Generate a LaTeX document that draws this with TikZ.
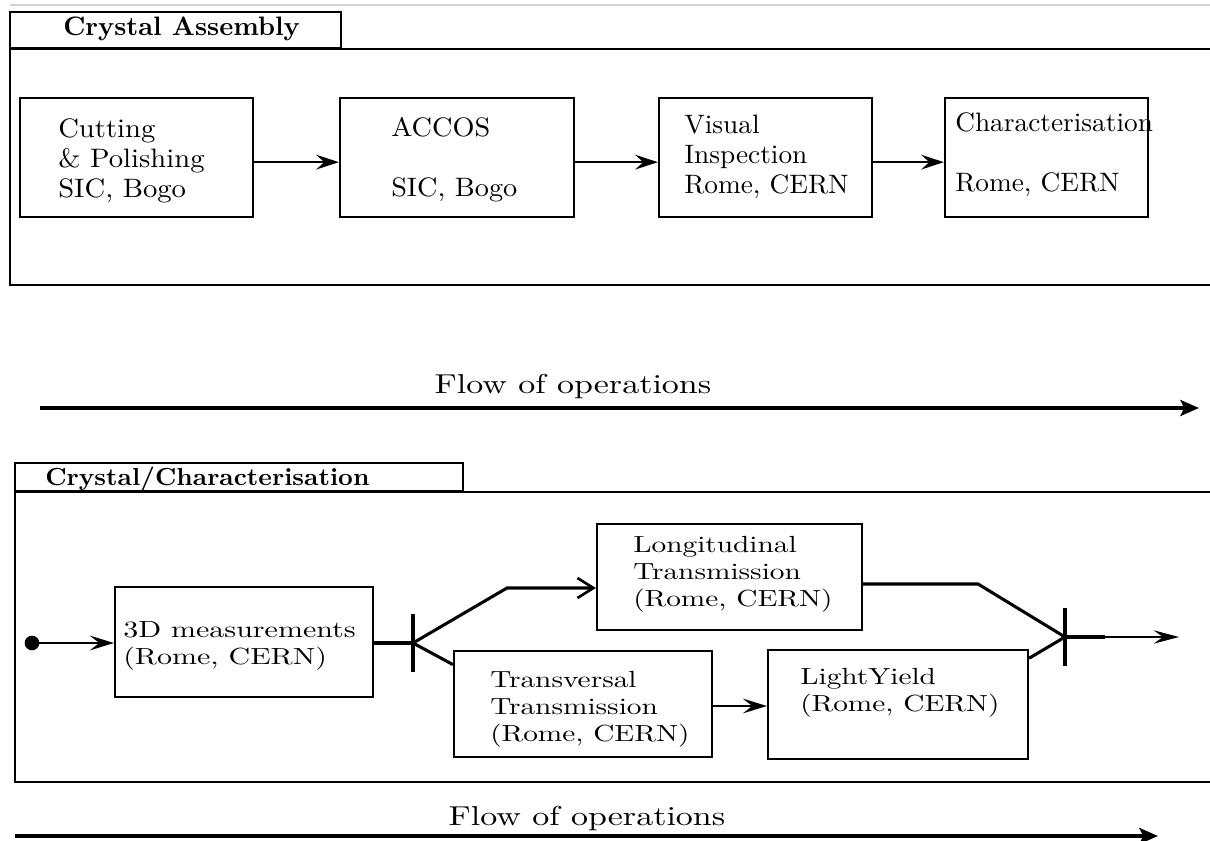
\documentclass[tikz,border=0pt]{standalone}
\usepackage{graphicx}
\usetikzlibrary{arrows.meta,fit}
\newcommand{\mlines}[3]{\scalebox{#1}[#2]{\begin{tabular}[t]{@{}l@{}}#3\end{tabular}}}
\newcommand{\sxy}[3]{\scalebox{#1}[#2]{#3}}
\begin{document}
\begin{tikzpicture}[x=0.75pt,y=-0.75pt,
  frame/.style={line width=2.2pt},
  tabbox/.style={draw, line width=2.1pt, inner sep=0pt},
  box/.style={draw, line width=1.6pt, inner sep=0pt},
  toptxt/.style={inner sep=0pt, anchor=base west, font=\fontsize{10}{11.1}\selectfont},
  lowtxt/.style={inner sep=0pt, anchor=base west, font=\fontsize{10}{11.6}\selectfont},
  ttl/.style={inner sep=0pt, anchor=base west, font=\fontsize{10}{12}\selectfont\bfseries},
  flowtxt/.style={inner sep=0pt, anchor=base, font=\fontsize{10}{12}\selectfont},
  arr/.style={line width=1.6pt, -{Stealth[length=17pt,width=11pt,inset=6pt]}},
  flowarr/.style={line width=3pt, -{Stealth[length=14pt,width=12pt,inset=3pt]}},
  lline/.style={line width=2.3pt},
  larr/.style={line width=2pt, -{Stealth[length=18pt,width=11pt,inset=7pt]}},
  barb/.style={line width=2.3pt, -{Straight Barb[length=12pt,width=15pt,line width=2pt]}},
  barnode/.style={fill=black, inner sep=0pt, minimum width=3pt, minimum height=44pt},
]
\useasboundingbox (0,0) rectangle (1210,841);
\fill[white] (0,0) rectangle (1210,841);
\draw[gray!35, line width=0.8pt] (10,5) -- (1210,5);

% ---------- Crystal Assembly ----------
\node[tabbox, fit={(10,12) (341,48)}] (tab1) {};
\node[ttl] (ttl1) at (63,36) {\sxy{2.0}{2.0}{Crystal Assembly}};
\draw[frame] (1210,49) -- (10,49) -- (10,285) -- (1210,285);

\node[box, fit={(20,98) (253,217)}] (b1) {};
\node[box, fit={(340,98) (574,217)}] (b2) {};
\node[box, fit={(659,98) (872,217)}] (b3) {};
\node[box, fit={(945,98) (1148,217)}] (b4) {};

\node[toptxt] (tb1) at (58,138) {\mlines{2.15}{2.0}{Cutting\\\& Polishing\\SIC, Bogo}};
\node[toptxt] (tb2) at (391,137) {\mlines{2.12}{2.0}{ACCOS\\ \\SIC, Bogo}};
\node[toptxt] (tb3) at (684,134) {\mlines{2.05}{2.0}{Visual\\Inspection\\Rome, CERN}};
\node[toptxt] (tb4) at (955,132) {\mlines{2.05}{2.0}{Characterisation\\ \\Rome, CERN}};

\draw[arr] ([yshift=-3.5pt]b1.east) -- ([yshift=-3.5pt]b2.west);
\draw[arr] ([yshift=-3.5pt]b2.east) -- ([yshift=-3.5pt]b3.west);
\draw[arr] ([yshift=-3.5pt]b3.east) -- ([yshift=-3.5pt]b4.west);

% ---------- Flow 1 ----------
\coordinate (f1s) at (40,408);
\coordinate (f1e) at (1199,408);
\draw[flowarr] (f1s) -- (f1e);
\node[flowtxt] (fl1) at (573,393) {\sxy{2.55}{2.05}{Flow of operations}};

% ---------- Crystal/Characterisation ----------
\node[tabbox, fit={(15,463) (463,491)}] (tab2) {};
\node[ttl] (ttl2) at (45,485) {\sxy{1.93}{1.85}{Crystal/Characterisation}};
\draw[frame] (1210,492) -- (15,492) -- (15,782) -- (1210,782);

\node[circle, fill=black, inner sep=0pt, minimum size=11pt] (dot) at (32,643) {};
\node[box, fit={(115,587) (373,697)}] (b3d) {};
\node[box, fit={(597,524) (862,630)}] (bL) {};
\node[box, fit={(454,651) (712,757)}] (bT) {};
\node[box, fit={(768,650) (1028,759)}] (bLY) {};
\node[barnode] (fork) at (413,643) {};
\node[barnode] (join) at (1065,637) {};

\node[lowtxt] (t3d) at (123,637) {\mlines{2.25}{1.75}{3D measurements\\(Rome, CERN)}};
\node[lowtxt] (tL) at (633,552) {\mlines{2.2}{1.75}{Longitudinal\\Transmission\\(Rome, CERN)}};
\node[lowtxt] (tT) at (490,687) {\mlines{2.2}{1.75}{Transversal\\Transmission\\(Rome, CERN)}};
\node[lowtxt] (tLY) at (800,684) {\mlines{2.2}{1.75}{LightYield\\(Rome, CERN)}};

\coordinate (kn1) at (507,588);
\coordinate (kn2) at (978,584);
\coordinate (o1) at (1105,637);
\coordinate (o2) at (1179,637);

\draw[larr] (dot.center) -- (dot.center -| b3d.west);
\draw[lline] (fork.center -| b3d.east) -- (fork.center);
\draw[barb] (fork.center) -- (kn1) -- (kn1 -| bL.west);
\draw[lline] (fork.center) -- ([yshift=-11pt]bT.north west);
\draw[larr] ([yshift=-1.5pt]bT.east) -- ([yshift=-1.5pt]bT.east -| bLY.west);
\draw[lline] (kn2 -| bL.east) -- (kn2) -- (join.center);
\draw[lline] ([yshift=-7pt]bLY.north east) -- (join.center);
\draw[line width=3pt] (join.center) -- (o1);
\draw[line width=1.6pt, -{Stealth[length=19pt,width=10pt,inset=7pt]}] (o1) -- (o2);

% ---------- Flow 2 ----------
\coordinate (f2s) at (15,836);
\coordinate (f2e) at (1158,836);
\draw[flowarr] (f2s) -- (f2e);
\node[flowtxt] (fl2) at (587,825) {\sxy{2.55}{2.05}{Flow of operations}};
\end{tikzpicture}
\end{document}
